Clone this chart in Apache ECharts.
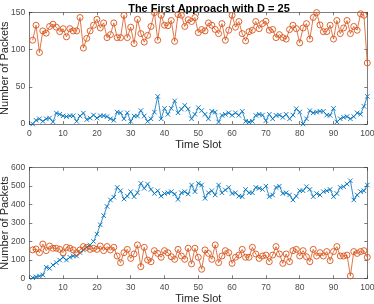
<!DOCTYPE html>
<html><head><meta charset="utf-8">
<script src="https://cdn.jsdelivr.net/npm/echarts@6/dist/echarts.min.js"></script>
<style>html,body{margin:0;padding:0;background:#fff}#c{width:374px;height:304px}</style>
</head><body><div id="c"></div>
<script>
var titleText = "The First Approach with D = 25";
var xLabel = "Time Slot";
var yLabel = "Number of Packets";
var xTicks = [0,10,20,30,40,50,60,70,80,90,100];
var topYTicks = [0,50,100,150];
var bottomYTicks = [0,100,200,300,400,500,600];

var topOrange = [112.5,132.6,96,125,122,131,134,130,124,128,117,128,125,125,143,102,115,125,132.6,140.6,
129,135.7,116,120,135.7,116,116,146,116,130,108,140.6,121.4,110,119,131,149.6,112.5,146,132.6,
132,139,111,147,146,131,140,137.6,143,122.8,126.8,125,135.7,132.6,127,121.4,134.8,112.5,125.9,146,
130,137.6,121.4,111.6,124,125.9,137.6,128,134.8,138,125.9,127,116,120,116,114,126.8,132.6,128,109,
129,134.8,114,143,149.6,133,124,124,132.6,114,139,121.4,129,139,121.4,131,125.9,148,146,82];

var topBlue = [0,5,7,3.6,7,8,3,14.7,13,11,10,11,11,3.6,10.7,14.7,6,8,12,8,
11,11,10,7,5,16,15,7,15,3.6,10.7,10.7,18,10.7,3.6,7,16,37,7,21,
13,21,31,15,20,25,20,7,13,22,18,13,7,17,16,2.7,11.6,13,15,11.6,
15,11.6,17,3.6,2.7,3.6,11.6,13,12,4.5,13,7,11.6,12,9,13,7,12,20.5,16,
0,7,18,15,16,17,17,12,11.6,21,2.7,7,9,10,7,10,15,13,23.7,37];

var bottomBlue = [3,8,12,18,60,54,72,85,99,114,99,114,121,121,139,154,168,181,200,240,
290,340,390,425,440,493,475,430,446,470,443,464,515,488,511,482,460,475,446,460,
464,470,457,428,464,470,457,506,470,515,506,434,464,475,452,506,464,479,493,460,
464,446,443,482,464,464,493,488,482,500,443,452,493,500,460,464,452,425,446,475,
475,497,482,443,460,452,470,475,482,443,460,493,497,511,529,425,452,470,475,506];

var bottomOrange = [154,159,139,186,150,175,163,163,157,139,168,163,154,139,154,172,168,157,163,157,
175,150,172,154,168,121,85,139,157,108,132,181,63,168,99,90,150,135,114,150,
139,117,103,157,121,103,163,78,163,114,49,154,135,103,181,85,121,150,139,81,
114,126,157,114,114,168,132,108,121,126,90,126,172,132,81,132,90,150,157,121,
150,117,90,157,121,139,121,145,96,145,172,121,121,126,13,145,135,145,150,114];

function pairs(arr){ return arr.map(function(v,i){ return [i+1, v]; }); }

var BLUE = '#0072BD', ORANGE = '#D95319', AX = '#262626';
var FONT = 'Liberation Sans';
var crossPath = 'path://M0,0L10,10M10,0L0,10';

function xAx(gi, pos, lbl){
  return {type:'value', gridIndex:gi, position:pos, min:xTicks[0], max:xTicks[xTicks.length-1], interval:10,
    axisLine:{show:true, onZero:false, lineStyle:{color:AX, width:0.6}},
    axisTick:{show:true, inside:true, length:3, lineStyle:{color:AX, width:0.6}},
    axisLabel:{show:lbl, color:'#4a4a4a', fontSize:8.5, fontFamily:FONT, margin:5},
    splitLine:{show:false},
    name: lbl ? xLabel : '', nameLocation:'middle', nameGap:15, nameMoveOverlap:false,
    nameTextStyle:{color:AX, fontSize:11, fontFamily:FONT}};
}
function yAx(gi, pos, lbl, ticks){
  return {type:'value', gridIndex:gi, position:pos, min:ticks[0], max:ticks[ticks.length-1], interval:ticks[1]-ticks[0],
    axisLine:{show:true, onZero:false, lineStyle:{color:AX, width:0.6}},
    axisTick:{show:true, inside:true, length:3, lineStyle:{color:AX, width:0.6}},
    axisLabel:{show:lbl, color:'#4a4a4a', fontSize:8.5, fontFamily:FONT, margin:4},
    splitLine:{show:false},
    name: lbl ? yLabel : '', nameLocation:'middle', nameGap:18.5, nameMoveOverlap:false,
    nameTextStyle:{color:AX, fontSize:11, fontFamily:FONT}};
}
function blueSeries(xi, yi, data){
  return {type:'line', xAxisIndex:xi, yAxisIndex:yi, data:pairs(data), symbol:crossPath, symbolSize:4.5,
    lineStyle:{color:BLUE, width:0.8}, itemStyle:{color:'transparent', borderColor:BLUE, borderWidth:0.9},
    animation:false, z:3};
}
function orangeSeries(xi, yi, data){
  return {type:'line', xAxisIndex:xi, yAxisIndex:yi, data:pairs(data), symbol:'circle', symbolSize:6,
    lineStyle:{color:ORANGE, width:0.8}, itemStyle:{color:'transparent', borderColor:ORANGE, borderWidth:0.9},
    animation:false, z:3};
}

var chart = echarts.init(document.getElementById('c'), null, {renderer:'canvas'});
chart.setOption({
  backgroundColor:'#fff',
  animation:false,
  title:{text:titleText, left:204, textAlign:'center', top:-2, textStyle:{fontSize:11, fontWeight:'bold', color:'#000', fontFamily:FONT}},
  grid:[
    {left:29.3, right:6.7, top:12.3, bottom:180, containLabel:false, outerBoundsMode:'none'},
    {left:29.3, right:6.7, top:167.7, bottom:25.7, containLabel:false, outerBoundsMode:'none'}
  ],
  xAxis:[xAx(0,'bottom',true), xAx(0,'top',false), xAx(1,'bottom',true), xAx(1,'top',false)],
  yAxis:[yAx(0,'left',true,topYTicks), yAx(0,'right',false,topYTicks), yAx(1,'left',true,bottomYTicks), yAx(1,'right',false,bottomYTicks)],
  series:[
    blueSeries(0,0,topBlue),
    orangeSeries(0,0,topOrange),
    blueSeries(2,2,bottomBlue),
    orangeSeries(2,2,bottomOrange)
  ]
});
</script></body></html>
